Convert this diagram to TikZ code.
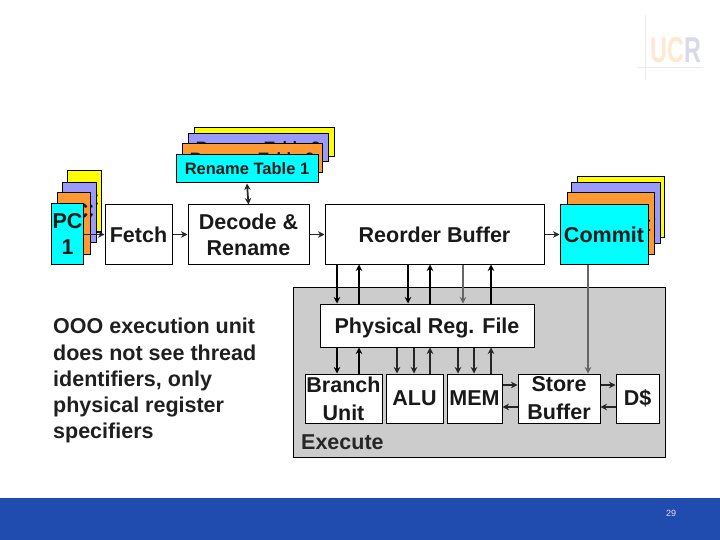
\documentclass[tikz,border=0pt]{standalone}
\usepackage{fontspec}
\usepackage{xcolor}
\usetikzlibrary{arrows.meta}
\setmainfont{Liberation Sans}
\definecolor{tblcyan}{RGB}{0,255,255}
\definecolor{tblorange}{RGB}{255,153,51}
\definecolor{tblpurple}{RGB}{153,153,255}
\definecolor{tblyellow}{RGB}{255,255,0}
\definecolor{execgray}{RGB}{204,204,204}
\definecolor{footblue}{RGB}{32,76,176}
\tikzset{
    unitbox/.style={draw=black,line width=1pt,fill=white,inner sep=0pt,align=center,
        font=\fontsize{21.5}{26}\selectfont\bfseries,text=black!90},
    tallbox/.style={unitbox,font=\fontsize{21.5}{28}\selectfont\bfseries},
    tablebox/.style={unitbox,font=\fontsize{16.5}{20}\selectfont\bfseries},
    bus/.style={->,line width=2.2pt,black},
    wire/.style={->,line width=1.7pt,black!85},
    graywire/.style={->,line width=1.3pt,black!60},
}

\begin{document}
\begin{tikzpicture}[x=1pt,y=-1pt,>={Stealth[length=6.5pt,width=6.5pt]}]
    \useasboundingbox (0,0) rectangle (720,540);

    % Footer
    \fill[footblue] (0,498) rectangle (720,540);
    \node[font=\fontsize{9}{10}\selectfont,text=white!85!footblue] (pagenum) at (671,513) {29};

    % Logo
    \draw[black!8,line width=.6pt] (645,15) -- (645,80) (637,67) -- (703,67);
    \node[xscale=.65,font=\fontsize{36}{36}\selectfont\bfseries,inner sep=0pt] (logo) at (676,50)
        {\textcolor{orange!18}{UC}\textcolor{blue!40!black!15}{R}};

    % Execute box
    \node[unitbox,fill=execgray,minimum width=372,minimum height=170] (exec) at (479,372) {};
    \node[font=\fontsize{21.5}{26}\selectfont\bfseries,text=black!85,inner sep=0pt,anchor=west] (execlabel) at (301,442) {Execute};

    % PC stack
    \node[unitbox,fill=tblyellow,minimum width=34,minimum height=61] (pc4) at (84,201.5) {};
    \node[unitbox,draw=none,fill=none] (pc4text) at (84,213) {PC\\4};
    \node[unitbox,fill=tblpurple,minimum width=34,minimum height=59] (pc3) at (79,212.5) {};
    \node[unitbox,draw=none,fill=none] (pc3text) at (79,224) {PC\\3};
    \node[unitbox,fill=tblorange,minimum width=33,minimum height=61] (pc2) at (73.5,223.5) {PC\\2};
    \node[unitbox,fill=tblcyan,minimum width=32,minimum height=60] (pc1) at (67.5,234) {PC\\1};

    % Rename table stack
    \node[tablebox,fill=tblyellow,minimum width=140,minimum height=29] (rt4) at (264,142.5) {Rename Table 4};
    \node[tablebox,fill=tblpurple,minimum width=140,minimum height=28] (rt3) at (258,148) {Rename Table 3};
    \node[tablebox,fill=tblorange,minimum width=140,minimum height=29] (rt2) at (252,158.5) {Rename Table 2};
    \node[tablebox,fill=tblcyan,minimum width=142,minimum height=28] (rt1) at (247,169) {Rename Table 1};

    % Commit stack
    \node[unitbox,fill=tblyellow,minimum width=87,minimum height=60] (cm4) at (620.5,207) {Commit};
    \node[unitbox,fill=tblpurple,minimum width=89,minimum height=60] (cm3) at (615.5,213) {Commit};
    \node[unitbox,fill=tblorange,minimum width=87,minimum height=61] (cm2) at (610.5,223.5) {Commit};
    \node[unitbox,fill=tblcyan,minimum width=88,minimum height=59] (cm1) at (604,234.5) {Commit};

    % Pipeline
    \node[unitbox,minimum width=67,minimum height=59] (fetch) at (138.5,234.5) {Fetch};
    \node[unitbox,minimum width=121,minimum height=59] (decode) at (248.5,234.5) {Decode \&\\Rename};
    \node[unitbox,minimum width=219,minimum height=59] (rob) at (434.5,234.5) {Reorder Buffer};

    % Execute units
    \node[unitbox,text depth=0pt,minimum width=214,minimum height=43] (prf) at (427,325.5) {Physical Reg. File};
    \node[tallbox,minimum width=77,minimum height=49] (branch) at (343.5,398.5) {Branch\\Unit};
    \node[unitbox,minimum width=57,minimum height=49] (alu) at (414.5,398.5) {ALU};
    \node[unitbox,minimum width=55,minimum height=49] (mem) at (474.5,398.5) {MEM};
    \node[tallbox,minimum width=82,minimum height=49] (store) at (559,398.5) {Store\\Buffer};
    \node[unitbox,minimum width=43,minimum height=49] (dcache) at (637.5,398.5) {D\$};

    % Note
    \node[font=\fontsize{21.5}{26.3}\selectfont\bfseries,text=black!88,align=left,inner sep=0pt,anchor=north west] (note) at (53,318)
        {OOO execution unit\\does not see thread\\identifiers, only\\physical register\\specifiers};

    % Pipeline arrows
    \draw[wire] (pc1.east |- fetch.west) -- (fetch.west);
    \draw[wire] (fetch.east) -- (decode.west);
    \draw[wire] (decode.east) -- (rob.west);
    \draw[wire] (rob.east) -- (cm1.west);
    \draw[wire,<->] (decode.north) -- (rt1.south);

    % ROB and register file
    \foreach \px in {337,408} \draw[bus] (rob.south -| \px,0) -- (prf.north -| \px,0);
    \foreach \px in {359,430,491} \draw[bus] (prf.north -| \px,0) -- (rob.south -| \px,0);
    \draw[graywire] (rob.south -| 463,0) -- (prf.north -| 463,0);

    % Register file and units
    \draw[bus] (prf.south -| 337,0) -- (branch.north -| 337,0);
    \draw[bus] (branch.north -| 359,0) -- (prf.south -| 359,0);
    \foreach \px in {397,414} \draw[wire] (prf.south -| \px,0) -- (alu.north -| \px,0);
    \draw[wire] (alu.north -| 430,0) -- (prf.south -| 430,0);
    \foreach \px in {458,474} \draw[wire] (prf.south -| \px,0) -- (mem.north -| \px,0);
    \draw[wire] (mem.north -| 491,0) -- (prf.south -| 491,0);

    % Store buffer
    \draw[graywire] (cm1.south -| 588,0) -- (store.north -| 588,0);
    \draw[wire] (mem.east |- 0,385) -- (store.west |- 0,385);
    \draw[wire] (store.west |- 0,407) -- (mem.east |- 0,407);
    \draw[wire] (store.east |- 0,385) -- (dcache.west |- 0,385);
    \draw[wire] (dcache.west |- 0,407) -- (store.east |- 0,407);
\end{tikzpicture}
\end{document}
